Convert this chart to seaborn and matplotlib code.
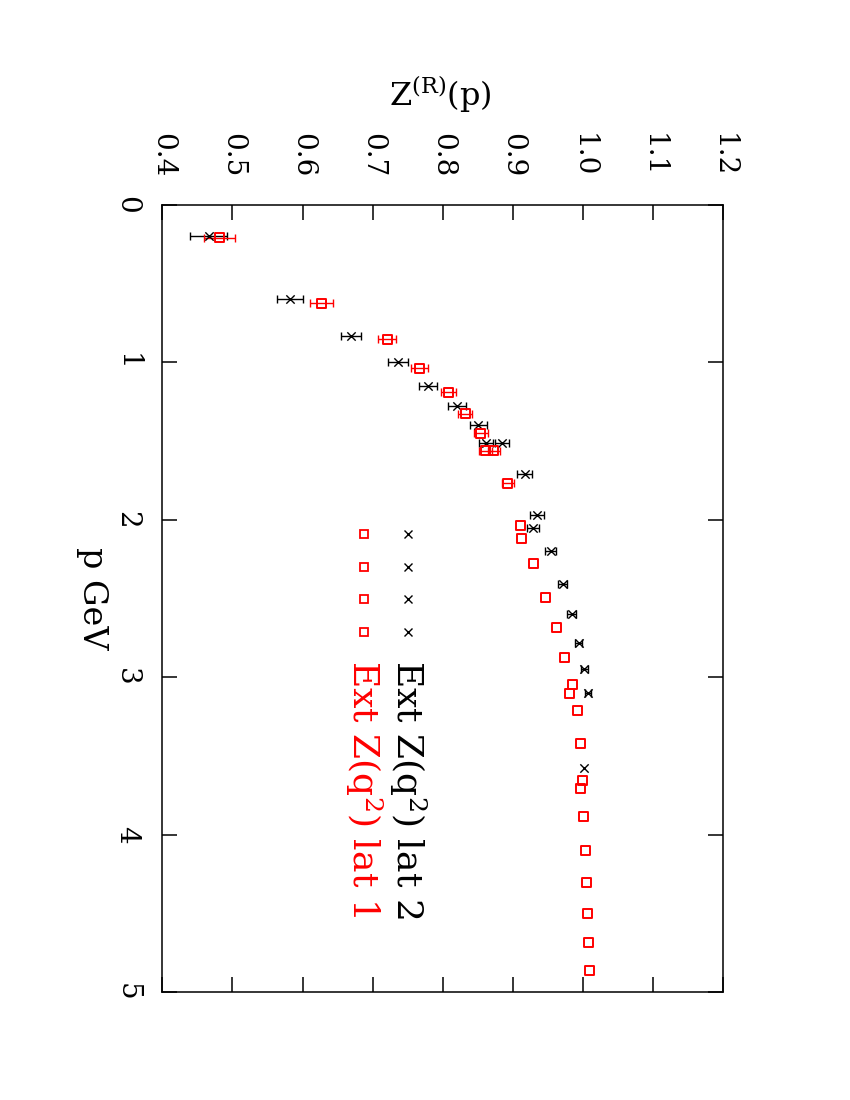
import seaborn as sns
import matplotlib
matplotlib.use('Agg')
import matplotlib.pyplot as plt

# lattice 2 (black crosses)
p_lat2 = [0.20, 0.60, 0.83, 1.00, 1.15, 1.28, 1.40, 1.51, 1.51, 1.71,
          1.97, 2.05, 2.20, 2.41, 2.60, 2.78, 2.95, 3.10, 3.58]
z_lat2 = [0.466, 0.582, 0.669, 0.736, 0.779, 0.820, 0.851, 0.862, 0.885, 0.917,
          0.934, 0.929, 0.954, 0.971, 0.984, 0.994, 1.002, 1.007, 1.001]
err_lat2 = [0.026, 0.018, 0.014, 0.014, 0.013, 0.013, 0.012, 0.010, 0.010, 0.011,
            0.010, 0.009, 0.008, 0.007, 0.006, 0.005, 0.005, 0.004, 0.0]

# lattice 1 (red squares)
p_lat1 = [0.21, 0.625, 0.853, 1.037, 1.19, 1.328, 1.45, 1.563, 1.563, 1.768,
          2.037, 2.12, 2.276, 2.492, 2.683, 2.874, 3.045, 3.102, 3.213, 3.42,
          3.657, 3.706, 3.886, 4.102, 4.306, 4.50, 4.684, 4.865]
z_lat1 = [0.482, 0.627, 0.721, 0.767, 0.808, 0.832, 0.854, 0.861, 0.873, 0.893,
          0.911, 0.912, 0.930, 0.946, 0.962, 0.974, 0.985, 0.981, 0.992, 0.997,
          0.9996, 0.997, 1.0006, 1.003, 1.0053, 1.0071, 1.0086, 1.0096]
err_lat1 = [0.022, 0.016, 0.013, 0.012, 0.011, 0.0095, 0.010, 0.009, 0.009, 0.009,
            0.0, 0.0, 0.0, 0.0, 0.0, 0.0, 0.0, 0.0, 0.0, 0.0,
            0.0, 0.0, 0.0, 0.0, 0.0, 0.0, 0.0, 0.0]

z_ticks = [0.4, 0.5, 0.6, 0.7, 0.8, 0.9, 1.0, 1.1, 1.2]
p_ticks = [0, 1, 2, 3, 4, 5]

label_lat2 = 'Ext Z(q$^2$) lat 2'
label_lat1 = 'Ext Z(q$^2$) lat 1'

sns.set_style('ticks')
plt.rcParams['font.family'] = ['DejaVu Serif', 'DejaVu Sans']
plt.rcParams['mathtext.fontset'] = 'dejavuserif'
plt.rcParams['text.color'] = 'black'
plt.rcParams['axes.labelcolor'] = 'black'
plt.rcParams['xtick.color'] = 'black'
plt.rcParams['ytick.color'] = 'black'


def with_err(z, p, e):
    # bars only where the error is bigger than the symbol
    keep = [i for i in range(len(z)) if e[i] > 0]
    return [z[i] for i in keep], [p[i] for i in keep], [e[i] for i in keep]


fig = plt.figure(figsize=(8.5, 11), dpi=100)
ax = fig.add_axes([0.191, 0.0982, 0.6597, 0.7155])

# the page is printed in landscape and turned: p runs down, Z runs across
zb, pb, eb = with_err(z_lat2, p_lat2, err_lat2)
ax.errorbar(zb, pb, xerr=eb, fmt='none', ecolor='black',
            elinewidth=1.0, capsize=2.9, capthick=1.0)
zr, pr, er = with_err(z_lat1, p_lat1, err_lat1)
ax.errorbar(zr, pr, xerr=er, fmt='none', ecolor='red',
            elinewidth=1.0, capsize=2.9, capthick=1.0)
sns.scatterplot(x=z_lat2, y=p_lat2, marker='x', color='black', s=36,
                linewidth=1.0, ax=ax, zorder=3)
sns.scatterplot(x=z_lat1, y=p_lat1, marker='s', s=42, linewidth=1.4, ax=ax, zorder=3)
sq = ax.collections[-1]
sq.set_facecolor('none')
sq.set_edgecolor('red')

ax.set_xlim(0.4, 1.2)
ax.set_ylim(5, 0)
ax.set_xticks(z_ticks)
ax.set_xticklabels([f'{t:.1f}' for t in z_ticks])
ax.set_yticks(p_ticks)
ax.set_yticklabels([str(t) for t in p_ticks])
ax.xaxis.tick_top()
ax.tick_params(axis='both', direction='in', length=11, width=1.1,
               top=True, bottom=True, left=True, right=True,
               labeltop=True, labelbottom=False, labelsize=20,
               colors='black')
ax.tick_params(axis='x', pad=20, labelrotation=-90)
ax.tick_params(axis='y', pad=16, labelrotation=-90)
for lab in ax.get_yticklabels():
    lab.set_va('center')
for sp in ax.spines.values():
    sp.set_linewidth(1.1)
    sp.set_color('black')

ax.xaxis.set_label_position('top')
ax.set_xlabel(r'Z$^{\mathrm{(R)}}$(p)', fontsize=23, va='center', color='black')
ax.xaxis.set_label_coords(0.495, 1.14)
ax.set_ylabel('p GeV', fontsize=24, rotation=-90, va='center', ha='center',
              color='black')
ax.yaxis.set_label_coords(-0.125, 0.5)

# legend drawn by hand so that it turns with the page
key_y = [0.582, 0.540, 0.499, 0.457]
ax.plot([0.438] * 4, key_y, 'x', color='black', ms=5.5, mew=1.0,
        transform=ax.transAxes, clip_on=False)
ax.plot([0.360] * 4, key_y, 's', color='red', mfc='none', ms=5.5, mew=1.3,
        transform=ax.transAxes, clip_on=False)
ax.text(0.438, 0.422, label_lat2, transform=ax.transAxes, rotation=-90,
        ha='center', va='top', fontsize=26, color='black')
ax.text(0.360, 0.422, label_lat1, transform=ax.transAxes, rotation=-90,
        ha='center', va='top', fontsize=26, color='red')

plt.savefig('out.png', dpi=100)
plt.close()
